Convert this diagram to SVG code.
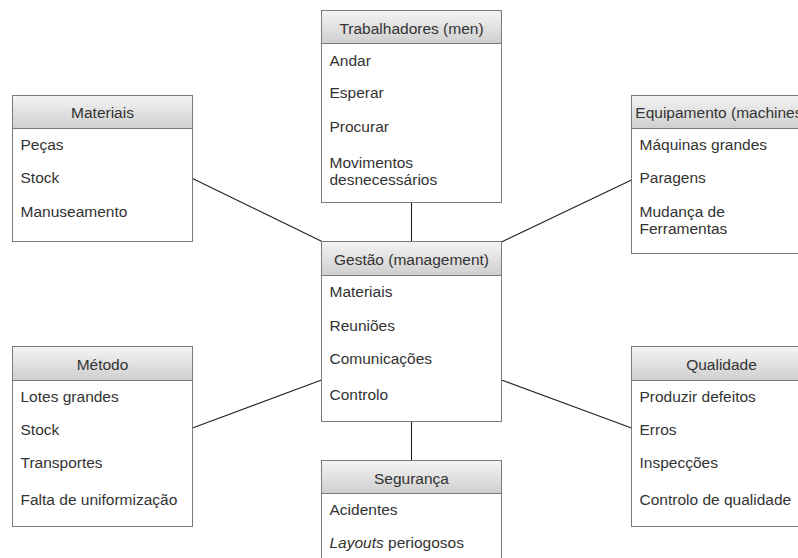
<svg xmlns="http://www.w3.org/2000/svg" width="798" height="558" viewBox="0 0 798 558">
<defs>
<linearGradient id="hdr" x1="0" y1="0" x2="0" y2="1">
<stop offset="0" stop-color="#f4f4f4"/>
<stop offset="1" stop-color="#cfcfcf"/>
</linearGradient>
<style>
.box{fill:#ffffff;stroke:#7a7a7a;stroke-width:1}
.hd{fill:url(#hdr);stroke:#7a7a7a;stroke-width:1}
.t{font-family:"Liberation Sans",Arial,Helvetica,sans-serif;font-size:15.5px;fill:#333333}
.c{text-anchor:middle}
.ln{stroke:#222222;stroke-width:1.1;fill:none}
</style>
</defs>
<rect x="0" y="0" width="798" height="558" fill="#ffffff"/>
<g id="connectors">
<line class="ln" x1="411.5" y1="202.5" x2="411.5" y2="241.5"/>
<line class="ln" x1="192.5" y1="178.5" x2="322" y2="241.5"/>
<line class="ln" x1="501.5" y1="242" x2="631.5" y2="180"/>
<line class="ln" x1="192.5" y1="428" x2="321.5" y2="380"/>
<line class="ln" x1="501.5" y1="380" x2="631.5" y2="428"/>
<line class="ln" x1="411.5" y1="421.5" x2="411.5" y2="460.5"/>
</g>
<g id="trabalhadores">
<rect class="box" x="321.5" y="10.5" width="180" height="192"/>
<rect class="hd" x="321.5" y="10.5" width="180" height="33"/>
<text class="t c" x="411.5" y="33.5">Trabalhadores (men)</text>
<text class="t" x="329.5" y="65.7">Andar</text>
<text class="t" x="329.5" y="98.3">Esperar</text>
<text class="t" x="329.5" y="131.7">Procurar</text>
<text class="t" x="329.5" y="167.5">Movimentos</text>
<text class="t" x="329.5" y="184.5">desnecessários</text>
</g>
<g id="materiais">
<rect class="box" x="12.5" y="95.5" width="180" height="146"/>
<rect class="hd" x="12.5" y="95.5" width="180" height="33"/>
<text class="t c" x="102.5" y="117.7">Materiais</text>
<text class="t" x="20.5" y="150">Peças</text>
<text class="t" x="20.5" y="183.3">Stock</text>
<text class="t" x="20.5" y="216.7">Manuseamento</text>
</g>
<g id="equipamento">
<rect class="box" x="631.5" y="95.5" width="180" height="158"/>
<rect class="hd" x="631.5" y="95.5" width="180" height="33"/>
<text class="t c" x="721.5" y="117.7">Equipamento (machines)</text>
<text class="t" x="639.5" y="150">Máquinas grandes</text>
<text class="t" x="639.5" y="183.3">Paragens</text>
<text class="t" x="639.5" y="216.7">Mudança de</text>
<text class="t" x="639.5" y="234">Ferramentas</text>
</g>
<g id="gestao">
<rect class="box" x="321.5" y="241.5" width="180" height="180"/>
<rect class="hd" x="321.5" y="241.5" width="180" height="34"/>
<text class="t c" x="411.5" y="265">Gestão (management)</text>
<text class="t" x="329.5" y="297.3">Materiais</text>
<text class="t" x="329.5" y="330.7">Reuniões</text>
<text class="t" x="329.5" y="364">Comunicações</text>
<text class="t" x="329.5" y="400">Controlo</text>
</g>
<g id="metodo">
<rect class="box" x="12.5" y="346.5" width="180" height="180"/>
<rect class="hd" x="12.5" y="346.5" width="180" height="34"/>
<text class="t c" x="102.5" y="370">Método</text>
<text class="t" x="20.5" y="401.7">Lotes grandes</text>
<text class="t" x="20.5" y="435">Stock</text>
<text class="t" x="20.5" y="468.3">Transportes</text>
<text class="t" x="20.5" y="505">Falta de uniformização</text>
</g>
<g id="qualidade">
<rect class="box" x="631.5" y="346.5" width="180" height="180"/>
<rect class="hd" x="631.5" y="346.5" width="180" height="34"/>
<text class="t c" x="721.5" y="370">Qualidade</text>
<text class="t" x="639.5" y="401.7">Produzir defeitos</text>
<text class="t" x="639.5" y="435">Erros</text>
<text class="t" x="639.5" y="468.3">Inspecções</text>
<text class="t" x="639.5" y="505">Controlo de qualidade</text>
</g>
<g id="seguranca">
<rect class="box" x="321.5" y="460.5" width="180" height="120"/>
<rect class="hd" x="321.5" y="460.5" width="180" height="33"/>
<text class="t c" x="411.5" y="483.5">Segurança</text>
<text class="t" x="329.5" y="515">Acidentes</text>
<text class="t" x="329.5" y="548.3"><tspan font-style="italic">Layouts</tspan> periogosos</text>
</g>
</svg>
